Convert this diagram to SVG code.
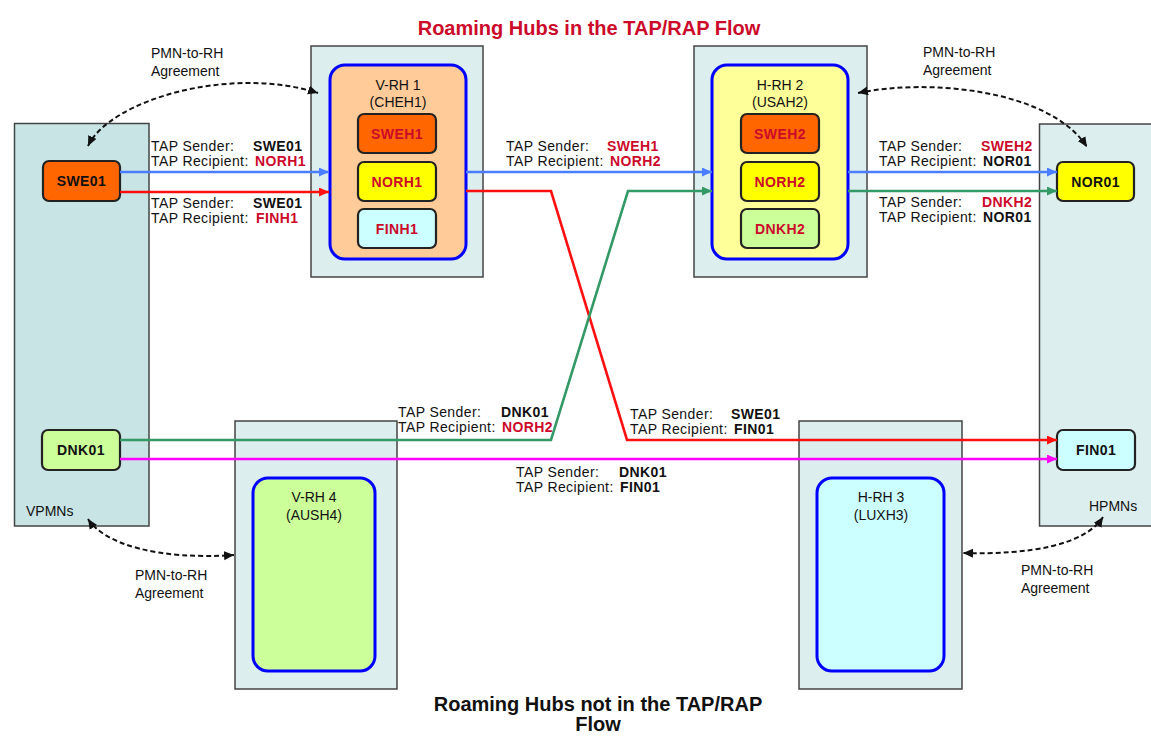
<svg xmlns="http://www.w3.org/2000/svg" width="1151" height="736" viewBox="0 0 1151 736">
<style>
text{font-family:"Liberation Sans",Arial,sans-serif;font-size:14px;fill:#111}
.lbl{letter-spacing:0.4px}
.b{font-weight:bold}
.r{fill:#cc0a2a}
.k{fill:#111}
.ctr{text-anchor:middle}
.pmn{fill:#c8e4e4;stroke:#444;stroke-width:1.5}
.hubo{fill:#ddeeee;stroke:#444;stroke-width:1.5}
.hubi{stroke:#0000ff;stroke-width:3}
.node{stroke:#222;stroke-width:2.2}
.title{font-size:20px;font-weight:bold}
.ln{fill:none;stroke-width:2.6}
.dash{fill:none;stroke:#111;stroke-width:2;stroke-dasharray:5 3}
</style>
<defs>
<marker id="aB" markerUnits="userSpaceOnUse" markerWidth="11" markerHeight="10" refX="10" refY="4.5" orient="auto"><path d="M0,0 L10,4.5 L0,9 z" fill="#4a7dff"/></marker>
<marker id="aR" markerUnits="userSpaceOnUse" markerWidth="11" markerHeight="10" refX="10" refY="4.5" orient="auto"><path d="M0,0 L10,4.5 L0,9 z" fill="#ff1010"/></marker>
<marker id="aG" markerUnits="userSpaceOnUse" markerWidth="11" markerHeight="10" refX="10" refY="4.5" orient="auto"><path d="M0,0 L10,4.5 L0,9 z" fill="#339966"/></marker>
<marker id="aM" markerUnits="userSpaceOnUse" markerWidth="11" markerHeight="10" refX="10" refY="4.5" orient="auto"><path d="M0,0 L10,4.5 L0,9 z" fill="#ff00ff"/></marker>
<marker id="aK" markerUnits="userSpaceOnUse" markerWidth="11" markerHeight="10" refX="10" refY="4.5" orient="auto-start-reverse"><path d="M0,0 L10,4.5 L0,9 z" fill="#111"/></marker>
</defs>
<rect width="1151" height="736" fill="#fff"/>

<text class="title r ctr" x="589" y="35">Roaming Hubs in the TAP/RAP Flow</text>
<text class="title ctr" x="598" y="711">Roaming Hubs not in the TAP/RAP</text>
<text class="title ctr" x="598" y="731">Flow</text>

<g id="vpmns">
<rect class="pmn" x="14.5" y="123.5" width="134.5" height="402.5"/>
<text x="26" y="516">VPMNs</text>
</g>
<g id="hpmns">
<rect class="hubo" x="1039.5" y="124" width="130" height="402"/>
<text x="1089" y="511">HPMNs</text>
</g>

<g id="vrh1">
<rect class="hubo" x="311" y="46" width="172" height="231"/>
<rect class="hubi" x="330" y="65" width="136" height="194" rx="15" fill="#ffcc99"/>
<text class="ctr" x="398" y="90">V-RH 1</text>
<text class="ctr" x="398" y="107">(CHEH1)</text>
</g>
<g id="sweh1"><rect class="node" x="358" y="114" width="78" height="39" rx="6" fill="#ff6600"/><text class="b r ctr lbl" x="397" y="139">SWEH1</text></g>
<g id="norh1"><rect class="node" x="358" y="162" width="78" height="39" rx="6" fill="#ffff00"/><text class="b r ctr lbl" x="397" y="187">NORH1</text></g>
<g id="finh1"><rect class="node" x="358" y="209" width="78" height="39" rx="6" fill="#ccffff"/><text class="b r ctr lbl" x="397" y="234">FINH1</text></g>

<g id="hrh2">
<rect class="hubo" x="694" y="46" width="173" height="231"/>
<rect class="hubi" x="712" y="65" width="136" height="194" rx="15" fill="#ffff99"/>
<text class="ctr" x="780" y="90">H-RH 2</text>
<text class="ctr" x="780" y="107">(USAH2)</text>
</g>
<g id="sweh2"><rect class="node" x="741" y="114" width="78" height="39" rx="6" fill="#ff6600"/><text class="b r ctr lbl" x="780" y="139">SWEH2</text></g>
<g id="norh2"><rect class="node" x="741" y="162" width="78" height="39" rx="6" fill="#ffff00"/><text class="b r ctr lbl" x="780" y="187">NORH2</text></g>
<g id="dnkh2"><rect class="node" x="741" y="209" width="78" height="39" rx="6" fill="#ccff99"/><text class="b r ctr lbl" x="780" y="234">DNKH2</text></g>

<g id="vrh4">
<rect class="hubo" x="235" y="421" width="162" height="268"/>
<rect class="hubi" x="253" y="478" width="122" height="193" rx="15" fill="#ccff99"/>
<text class="ctr" x="314" y="502">V-RH 4</text>
<text class="ctr" x="314" y="520">(AUSH4)</text>
</g>
<g id="hrh3">
<rect class="hubo" x="799" y="421" width="163" height="268"/>
<rect class="hubi" x="817" y="478" width="127" height="193" rx="15" fill="#ccffff"/>
<text class="ctr" x="881" y="502">H-RH 3</text>
<text class="ctr" x="881" y="520">(LUXH3)</text>
</g>

<g id="swe01"><rect class="node" x="43" y="161" width="77" height="40" rx="6" fill="#ff6600"/><text class="b ctr lbl" x="81.5" y="186">SWE01</text></g>
<g id="dnk01"><rect class="node" x="42" y="430" width="78" height="40" rx="6" fill="#ccff99"/><text class="b ctr lbl" x="81" y="455">DNK01</text></g>
<g id="nor01"><rect class="node" x="1057" y="162" width="77" height="39" rx="6" fill="#ffff00"/><text class="b ctr lbl" x="1095.5" y="187">NOR01</text></g>
<g id="fin01"><rect class="node" x="1057" y="430" width="78" height="40" rx="6" fill="#ccffff"/><text class="b ctr lbl" x="1096" y="455">FIN01</text></g>

<g id="connectors">
<path class="ln" stroke="#4a7dff" d="M120 172 H329" marker-end="url(#aB)"/>
<path class="ln" stroke="#4a7dff" d="M466 172 H712" marker-end="url(#aB)"/>
<path class="ln" stroke="#4a7dff" d="M848 172 H1057" marker-end="url(#aB)"/>
<path class="ln" stroke="#ff1010" d="M120 192 H329" marker-end="url(#aR)"/>
<path class="ln" stroke="#ff1010" d="M466 191 H551 L627 440 H1057" marker-end="url(#aR)"/>
<path class="ln" stroke="#339966" d="M120 440 H551 L628 191 H712" marker-end="url(#aG)"/>
<path class="ln" stroke="#339966" d="M848 191 H1057" marker-end="url(#aG)"/>
<path class="ln" stroke="#ff00ff" d="M120 459 H1057" marker-end="url(#aM)"/>
<path class="dash" d="M88 146 C110 100 230 65 318 93" marker-start="url(#aK)" marker-end="url(#aK)"/>
<path class="dash" d="M858 93 C930 78 1050 90 1087 147" marker-start="url(#aK)" marker-end="url(#aK)"/>
<path class="dash" d="M88 519 C105 545 160 560 234 555" marker-start="url(#aK)" marker-end="url(#aK)"/>
<path class="dash" d="M1103 517 C1085 545 1030 555 963 553" marker-start="url(#aK)" marker-end="url(#aK)"/>
</g>

<g id="labels">
<text x="151" y="58">PMN-to-RH</text><text x="151" y="76">Agreement</text>
<text x="923" y="57">PMN-to-RH</text><text x="923" y="75">Agreement</text>
<text x="135" y="580">PMN-to-RH</text><text x="135" y="598">Agreement</text>
<text x="1021" y="575">PMN-to-RH</text><text x="1021" y="593">Agreement</text>

<text class="lbl" x="151" y="151">TAP Sender:<tspan class="b k" x="253">SWE01</tspan></text>
<text class="lbl" x="151" y="166">TAP Recipient:<tspan class="b r" x="255">NORH1</tspan></text>
<text class="lbl" x="151" y="208">TAP Sender:<tspan class="b k" x="253">SWE01</tspan></text>
<text class="lbl" x="151" y="223">TAP Recipient:<tspan class="b r" x="256">FINH1</tspan></text>

<text class="lbl" x="506" y="151">TAP Sender:<tspan class="b r" x="607">SWEH1</tspan></text>
<text class="lbl" x="506" y="166">TAP Recipient:<tspan class="b r" x="610">NORH2</tspan></text>

<text class="lbl" x="879" y="151">TAP Sender:<tspan class="b r" x="981">SWEH2</tspan></text>
<text class="lbl" x="879" y="166">TAP Recipient:<tspan class="b k" x="983">NOR01</tspan></text>
<text class="lbl" x="879" y="207">TAP Sender:<tspan class="b r" x="982">DNKH2</tspan></text>
<text class="lbl" x="879" y="222">TAP Recipient:<tspan class="b k" x="983">NOR01</tspan></text>

<text class="lbl" x="398" y="417">TAP Sender:<tspan class="b k" x="501">DNK01</tspan></text>
<text class="lbl" x="398" y="432">TAP Recipient:<tspan class="b r" x="502">NORH2</tspan></text>

<text class="lbl" x="630" y="419">TAP Sender:<tspan class="b k" x="731">SWE01</tspan></text>
<text class="lbl" x="630" y="434">TAP Recipient:<tspan class="b k" x="734">FIN01</tspan></text>

<text class="lbl" x="516" y="477">TAP Sender:<tspan class="b k" x="619">DNK01</tspan></text>
<text class="lbl" x="516" y="492">TAP Recipient:<tspan class="b k" x="620">FIN01</tspan></text>
</g>
</svg>
